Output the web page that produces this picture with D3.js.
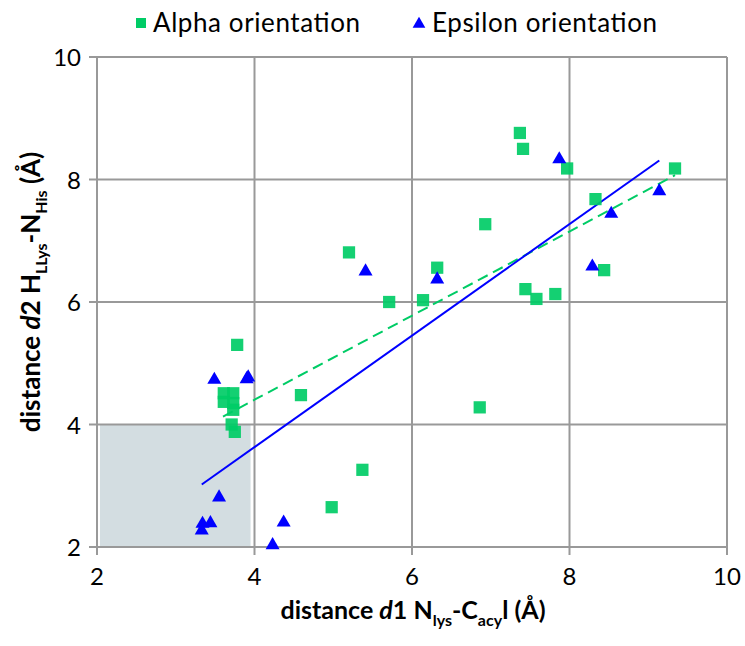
<!DOCTYPE html>
<html>
<head>
<meta charset="UTF-8">
<title>distance d1 / d2</title>
<script src="https://cdn.jsdelivr.net/npm/d3@7"></script>
<style>
	body { margin: 0; background: #fff; }
	text { font-family: Lato, "Open Sans", sans-serif; fill: #000; }
</style>
</head>
<body>
<div id="chart"></div>
<script>
// Alpha orientation (green squares)
var alphaX = [7.37, 7.41, 7.97, 9.34, 8.33, 6.93, 5.20, 6.32, 8.44, 7.44, 7.58, 7.82, 5.71, 6.14, 6.86,
	5.37, 4.98, 3.78, 4.59, 3.61, 3.73, 3.61, 3.73, 3.73, 3.71, 3.75];
var alphaY = [8.76, 8.50, 8.18, 8.18, 7.68, 7.27, 6.81, 6.56, 6.52, 6.21, 6.05, 6.13, 6.00, 6.03, 4.28,
	3.26, 2.65, 5.30, 4.48, 4.51, 4.51, 4.37, 4.35, 4.24, 4.00, 3.88];
// Epsilon orientation (blue triangles)
var epsX = [7.87, 9.14, 8.53, 8.29, 5.41, 6.32, 3.49, 3.90, 3.92, 3.55, 3.34, 3.44, 3.33, 4.37, 4.23];
var epsY = [8.33, 7.81, 7.44, 6.58, 6.50, 6.37, 4.73, 4.74, 4.77, 2.81, 2.38, 2.39, 2.27, 2.40, 2.03];
// trend lines (end points)
var alphaTrendX = [3.60, 9.34];
var alphaTrendY = [4.13, 8.07];
var epsTrendX = [3.33, 9.14];
var epsTrendY = [3.02, 8.31];
// shaded region
var shadeX = [2, 3.95];
var shadeY = [2, 4];
var xTicks = [2, 4, 6, 8, 10];
var yTicks = [2, 4, 6, 8, 10];
var seriesNames = ["Alpha orientation", "Epsilon orientation"];

var W = 745, H = 646;
var green = "#00cc66", blue = "#0000ff";

var svg = d3.select("#chart").append("svg")
	.attr("width", W)
	.attr("height", H);

var x = d3.scaleLinear().domain([2, 10]).range([97, 727]);
var y = d3.scaleLinear().domain([2, 10]).range([547, 57]);

// shaded box
svg.append("rect")
	.attr("x", x(shadeX[0]) + 3)
	.attr("y", y(shadeY[1]))
	.attr("width", x(shadeX[1]) - x(shadeX[0]) - 3)
	.attr("height", y(shadeY[0]) - y(shadeY[1]))
	.attr("fill", "#d3dde1");

// gridlines
var grid = svg.append("g").attr("stroke", "#999").attr("stroke-width", 2);
grid.selectAll(".vx").data(xTicks).enter().append("line")
	.attr("x1", function(d){ return x(d); })
	.attr("x2", function(d){ return x(d); })
	.attr("y1", y(10))
	.attr("y2", y(2) + 8);
grid.selectAll(".hy").data(yTicks).enter().append("line")
	.attr("x1", x(2) - 8)
	.attr("x2", x(10))
	.attr("y1", function(d){ return y(d); })
	.attr("y2", function(d){ return y(d); });

// tick labels
svg.append("g").selectAll("text").data(xTicks).enter().append("text")
	.attr("x", function(d){ return x(d); })
	.attr("y", 585)
	.attr("text-anchor", "middle")
	.attr("font-size", 24)
	.text(function(d){ return d; });
svg.append("g").selectAll("text").data(yTicks).enter().append("text")
	.attr("x", 81)
	.attr("y", function(d){ return y(d) + 9; })
	.attr("text-anchor", "end")
	.attr("font-size", 24)
	.text(function(d){ return d; });

// trend lines
svg.append("line")
	.attr("x1", x(alphaTrendX[0])).attr("y1", y(alphaTrendY[0]))
	.attr("x2", x(alphaTrendX[1])).attr("y2", y(alphaTrendY[1]))
	.attr("stroke", green).attr("stroke-width", 2)
	.attr("stroke-dasharray", "11,6");
svg.append("line")
	.attr("x1", x(epsTrendX[0])).attr("y1", y(epsTrendY[0]))
	.attr("x2", x(epsTrendX[1])).attr("y2", y(epsTrendY[1]))
	.attr("stroke", blue).attr("stroke-width", 2);

// markers
var sq = d3.symbol().type(d3.symbolSquare).size(150);
var tri = d3.symbol().type(d3.symbolTriangle).size(85);

svg.append("g").selectAll("path").data(alphaX).enter().append("path")
	.attr("d", sq)
	.attr("transform", function(d, i){ return "translate(" + x(d) + "," + y(alphaY[i]) + ")"; })
	.attr("fill", green)
	.attr("fill-opacity", 0.92);

svg.append("g").selectAll("path").data(epsX).enter().append("path")
	.attr("d", tri)
	.attr("transform", function(d, i){ return "translate(" + x(d) + "," + y(epsY[i]) + ")"; })
	.attr("fill", blue);

// legend
var leg = svg.append("g");
leg.append("path").attr("d", d3.symbol().type(d3.symbolSquare).size(100))
	.attr("transform", "translate(141,23)").attr("fill", green);
leg.append("text").attr("x", 153).attr("y", 32).attr("font-size", 26)
	.attr("textLength", 207).text(seriesNames[0]);
leg.append("path").attr("d", d3.symbol().type(d3.symbolTriangle).size(70))
	.attr("transform", "translate(419,24)").attr("fill", blue);
leg.append("text").attr("x", 432).attr("y", 32).attr("font-size", 26)
	.attr("textLength", 225).text(seriesNames[1]);

// x axis title
var xt = svg.append("text")
	.attr("x", 413).attr("y", 619)
	.attr("text-anchor", "middle")
	.attr("font-size", 25)
	.attr("font-weight", "bold");
xt.append("tspan").text("distance ");
xt.append("tspan").attr("font-style", "italic").text("d");
xt.append("tspan").text("1 N");
xt.append("tspan").attr("font-size", 16).attr("dy", 7).text("lys");
xt.append("tspan").attr("dy", -7).text("-C");
xt.append("tspan").attr("font-size", 16).attr("dy", 7).text("acy");
xt.append("tspan").attr("dy", -7).text("l (Å)");

// y axis title
var yt = svg.append("text")
	.attr("transform", "translate(40,292) rotate(-90)")
	.attr("text-anchor", "middle")
	.attr("font-size", 26)
	.attr("font-weight", "bold");
yt.append("tspan").text("distance  ");
yt.append("tspan").attr("font-style", "italic").text("d");
yt.append("tspan").text("2  H");
yt.append("tspan").attr("font-size", 16).attr("dy", 7).text("LLys");
yt.append("tspan").attr("dy", -7).text("-N");
yt.append("tspan").attr("font-size", 16).attr("dy", 7).text("His");
yt.append("tspan").attr("dy", -7).text(" (Å)");
</script>
</body>
</html>
